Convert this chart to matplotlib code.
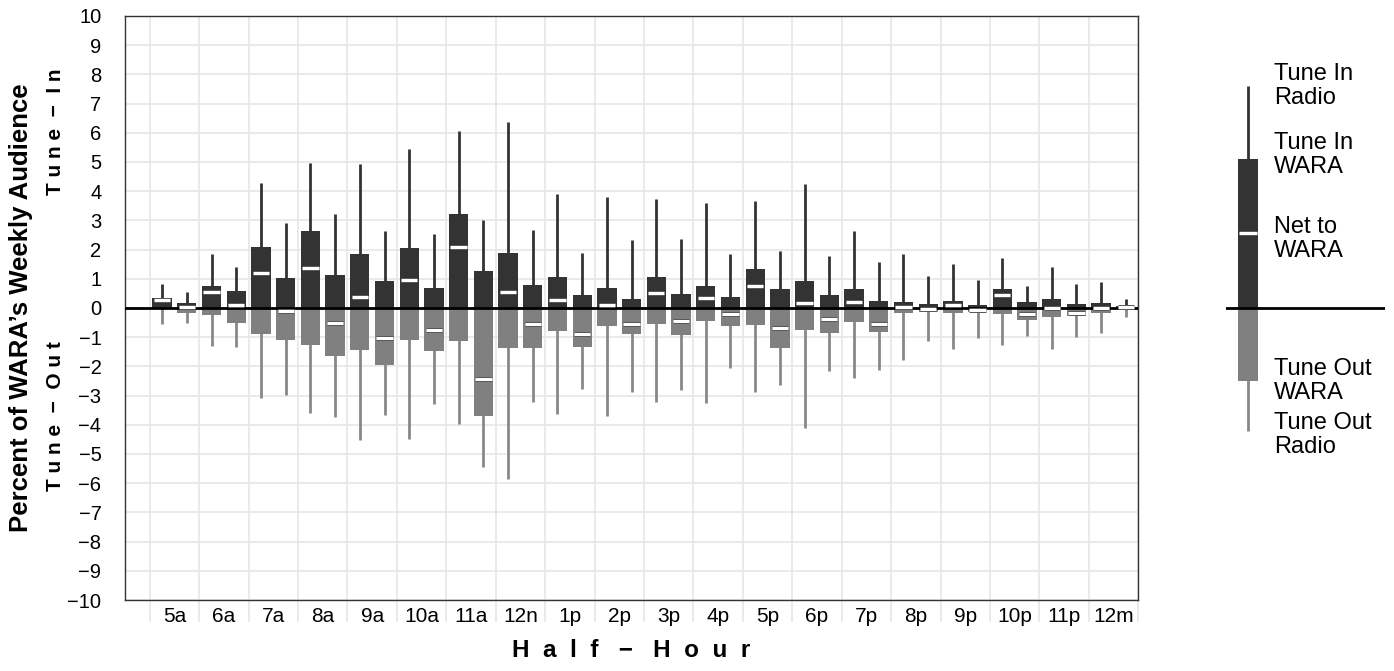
import numpy as np
import matplotlib
matplotlib.use("Agg")
import matplotlib.pyplot as plt
import matplotlib.patheffects as pe

plt.rcParams['font.family'] = ['Liberation Sans', 'DejaVu Sans']

# hour labels, two half-hour slots per hour
hours = ['5a', '6a', '7a', '8a', '9a', '10a', '11a', '12n', '1p', '2p',
         '3p', '4p', '5p', '6p', '7p', '8p', '9p', '10p', '11p', '12m']

# values, one per half hour
tune_in_radio = [0.83, 0.54, 1.84, 1.40, 4.29, 2.90, 4.95, 3.21, 4.92, 2.65,
                 5.43, 2.55, 6.05, 3.01, 6.38, 2.66, 3.90, 1.88, 3.79, 2.33,
                 3.74, 2.37, 3.58, 1.84, 3.65, 1.95, 4.25, 1.78, 2.63, 1.59,
                 1.84, 1.11, 1.51, 0.95, 1.71, 0.74, 1.42, 0.83, 0.88, 0.30]
tune_in_wara = [0.33, 0.16, 0.75, 0.58, 2.09, 1.03, 2.64, 1.13, 1.85, 0.92,
                2.05, 0.68, 3.21, 1.27, 1.87, 0.79, 1.06, 0.45, 0.68, 0.31,
                1.06, 0.48, 0.75, 0.38, 1.34, 0.65, 0.92, 0.45, 0.65, 0.24,
                0.21, 0.14, 0.24, 0.10, 0.65, 0.21, 0.31, 0.14, 0.17, 0.06]
net_wara = [0.26, 0.02, 0.54, 0.09, 1.19, -0.10, 1.37, -0.53, 0.39, -1.02,
            0.96, -0.76, 2.08, -2.43, 0.54, -0.56, 0.29, -0.90, 0.10, -0.56,
            0.51, -0.45, 0.33, -0.22, 0.75, -0.70, 0.18, -0.39, 0.20, -0.55,
            0.05, -0.02, 0.09, -0.07, 0.43, -0.22, -0.01, -0.16, 0.01, 0.03]
tune_out_wara = [-0.05, -0.16, -0.24, -0.50, -0.88, -1.10, -1.27, -1.64, -1.44, -1.95,
                 -1.10, -1.46, -1.12, -3.69, -1.37, -1.37, -0.79, -1.32, -0.62, -0.88,
                 -0.54, -0.91, -0.45, -0.62, -0.57, -1.36, -0.74, -0.84, -0.47, -0.81,
                 -0.16, -0.15, -0.16, -0.15, -0.19, -0.40, -0.31, -0.26, -0.16, -0.01]
tune_out_radio = [-0.56, -0.50, -1.30, -1.32, -3.09, -2.99, -3.58, -3.73, -4.52, -3.65,
                  -4.47, -3.30, -3.98, -5.46, -5.84, -3.21, -3.62, -2.79, -3.70, -2.88,
                  -3.22, -2.80, -3.24, -2.05, -2.89, -2.65, -4.10, -2.16, -2.41, -2.12,
                  -1.78, -1.13, -1.42, -1.02, -1.27, -0.96, -1.42, -0.98, -0.86, -0.32]

# sample values for the key on the right
key_vals = {'in_radio': 7.6, 'in_wara': 5.1, 'net': 2.56, 'out_wara': -2.5, 'out_radio': -4.2}

DARK = '#333333'
GRAY = '#808080'
WHISK_OUT = '#888888'
GRID = '#e6e6e6'

fig = plt.figure(figsize=(13.94, 6.71), dpi=100)
ax = fig.add_axes([0.0897, 0.1058, 0.7268, 0.8704])

x = np.arange(len(tune_in_radio))
bw = 0.78
mw = 0.66

marker_fx = [pe.Stroke(linewidth=3.6, foreground='#555555'), pe.Normal()]


def draw_set(a, xs, rin, win, net, wout, rout, bw, mw):
    a.vlines(xs, 0, rin, color=DARK, lw=2.0, zorder=2)
    a.vlines(xs, rout, 0, color=WHISK_OUT, lw=2.0, zorder=2)
    a.bar(xs, win, width=bw, color=DARK, zorder=3)
    a.bar(xs, wout, width=bw, color=GRAY, zorder=3)
    a.axhline(0, color='black', lw=2.0, zorder=4)
    for xi, ni in zip(np.atleast_1d(xs), np.atleast_1d(net)):
        a.plot([xi - mw / 2, xi + mw / 2], [ni, ni], color='white', lw=2.2,
               solid_capstyle='butt', zorder=5, path_effects=marker_fx)


draw_set(ax, x, tune_in_radio, tune_in_wara, net_wara, tune_out_wara, tune_out_radio, bw, mw)

ax.set_xlim(-1.5, 39.5)
ax.set_ylim(-10, 10)
ax.set_yticks(range(-10, 11))
ax.set_xticks(np.arange(len(hours)) * 2 + 0.5)
ax.set_xticklabels(hours)
ax.set_xticks(np.arange(len(hours) + 1) * 2 - 0.5, minor=True)
ax.tick_params(axis='x', which='major', length=0, labelsize=15, pad=5)
ax.tick_params(axis='x', which='minor', length=16, width=1.2, color=GRID, direction='out')
ax.tick_params(axis='y', length=0, labelsize=14.5, pad=17)
ax.grid(True, axis='y', color=GRID, lw=1.2, zorder=0)
ax.grid(True, axis='x', which='minor', color=GRID, lw=1.2, zorder=0)
ax.set_axisbelow(True)
for s in ax.spines.values():
    s.set_color(DARK)
    s.set_linewidth(1.0)

ax.set_xlabel('H  a  l  f   \u2212   H  o  u  r', fontsize=17.5, fontweight='bold', labelpad=9)

fig.text(0.015, ax.get_position().y0 + ax.get_position().height / 2,
         'Percent of WARA\u2019s Weekly Audience', rotation=90,
         ha='center', va='center', fontsize=18.5, fontweight='bold')
ax.text(-0.069, 6.05, 'T u n e  \u2212  I n', transform=ax.get_yaxis_transform(),
        rotation=90, ha='center', va='center', fontsize=15, fontweight='bold')
ax.text(-0.069, -3.7, 'T u n e  \u2212  O u t', transform=ax.get_yaxis_transform(),
        rotation=90, ha='center', va='center', fontsize=15, fontweight='bold')

# key
kx = fig.add_axes([0.8795, 0.1058, 0.114, 0.8704])
kx.set_xlim(0, 1)
kx.set_ylim(-10, 10)
kx.axis('off')
draw_set(kx, [0.1375], [key_vals['in_radio']], [key_vals['in_wara']], [key_vals['net']],
         [key_vals['out_wara']], [key_vals['out_radio']], 0.125, 0.11)
lx = 0.30
kx.text(lx, key_vals['in_radio'], 'Tune In\nRadio', va='center', fontsize=17, linespacing=1.1)
kx.text(lx, key_vals['in_wara'] + 0.15, 'Tune In\nWARA', va='center', fontsize=17, linespacing=1.1)
kx.text(lx, key_vals['net'] - 0.2, 'Net to\nWARA', va='center', fontsize=17, linespacing=1.1)
kx.text(lx, key_vals['out_wara'], 'Tune Out\nWARA', va='center', fontsize=17, linespacing=1.1)
kx.text(lx, key_vals['out_radio'] - 0.15, 'Tune Out\nRadio', va='center', fontsize=17, linespacing=1.1)

fig.savefig('out.png', dpi=100)
